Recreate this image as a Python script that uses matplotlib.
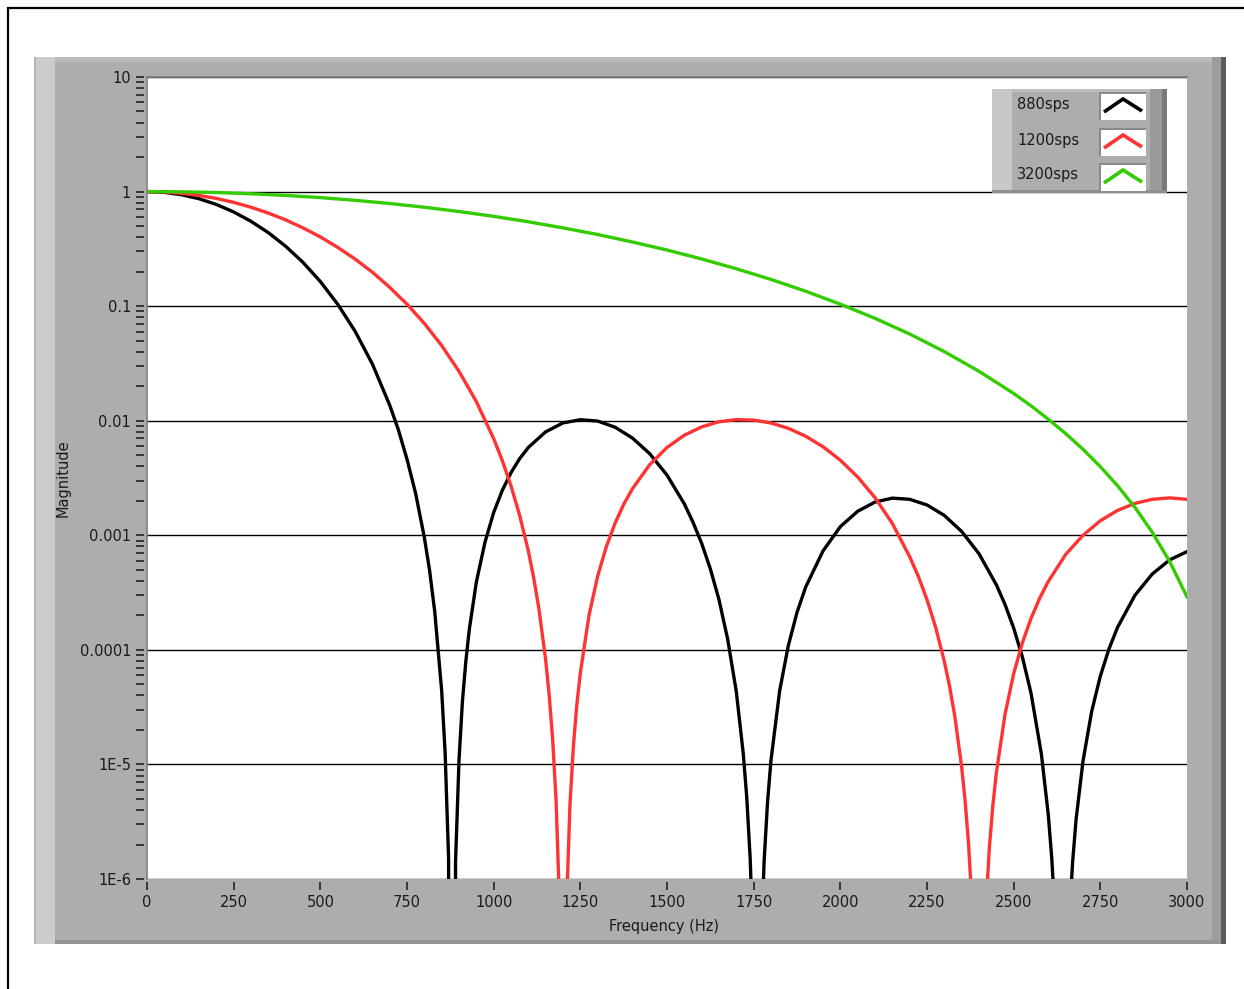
import numpy as np
import matplotlib
matplotlib.use("Agg")
import matplotlib.pyplot as plt
from matplotlib.patches import Rectangle
from matplotlib.lines import Line2D

# sinc^3 filter magnitude responses
freq_880 = [0, 50, 100, 150, 200, 250, 300, 350, 400, 450, 500, 550, 600, 650, 700,
            725, 750, 775, 800, 815, 830, 850, 860, 870, 880, 890, 900, 910, 920, 930, 950, 975,
            1000, 1025, 1050, 1075, 1100, 1150, 1200, 1250, 1300, 1350, 1400, 1450, 1500, 1550,
            1575, 1600, 1625, 1650, 1675, 1700,
            1720, 1730, 1740, 1750, 1760, 1770, 1780, 1790, 1800, 1825, 1850, 1875, 1900,
            1950, 2000, 2050, 2100, 2150, 2200, 2250, 2300, 2350, 2400, 2450, 2475, 2500, 2525, 2550,
            2580, 2600, 2610, 2620, 2640, 2660, 2670, 2680, 2700, 2725, 2750, 2775, 2800,
            2850, 2900, 2950, 3000]
mag_880 = [1.0, 0.984, 0.938, 0.866, 0.772, 0.664, 0.550, 0.438, 0.333, 0.241, 0.164, 0.104, 0.0606,
           0.0313, 0.0137,
           8.35e-3, 4.61e-3, 2.31e-3, 9.6e-4, 4.97e-4, 2.16e-4, 4.4e-5, 1.26e-5, 1.5e-6, 0, 1.4e-6,
           1.09e-5, 3.6e-5, 8.1e-5, 1.53e-4, 3.9e-4, 8.7e-4,
           1.58e-3, 2.47e-3, 3.52e-3, 4.67e-3, 5.84e-3, 8.0e-3, 9.57e-3, 1.02e-2, 9.93e-3, 8.78e-3,
           7.07e-3, 5.16e-3, 3.35e-3, 1.88e-3, 1.30e-3, 8.5e-4, 5.1e-4, 2.74e-4, 1.24e-4, 4.3e-5,
           1.24e-5, 5.2e-6, 1.5e-6, 1.9e-7, 0, 1.8e-7, 1.4e-6, 4.7e-6, 1.09e-5, 4.4e-5, 1.09e-4,
           2.12e-4, 3.53e-4,
           7.3e-4, 1.19e-3, 1.62e-3, 1.95e-3, 2.11e-3, 2.06e-3, 1.84e-3, 1.49e-3, 1.08e-3, 6.9e-4,
           3.7e-4, 2.49e-4, 1.55e-4, 8.7e-5, 4.2e-5,
           1.23e-5, 3.6e-6, 1.5e-6, 4.4e-7, 0, 4.2e-7, 1.4e-6, 3.3e-6, 1.07e-5, 2.9e-5, 5.9e-5,
           1.02e-4, 1.58e-4,
           3.0e-4, 4.6e-4, 6.1e-4, 7.2e-4]

freq_1200 = [0, 50, 100, 150, 200, 250, 300, 350, 400, 450, 500, 550, 600, 650, 700, 750, 800, 850,
             900, 950, 1000,
             1025, 1050, 1075, 1100, 1115, 1130, 1150, 1160, 1170, 1180, 1190, 1200, 1210, 1220, 1230,
             1240, 1250, 1275,
             1300, 1325, 1350, 1375, 1400, 1450, 1500, 1550, 1600, 1650, 1700, 1750, 1800, 1850, 1900,
             1950, 2000, 2050, 2100, 2150, 2200,
             2225, 2250, 2275, 2300, 2315, 2330, 2350, 2360, 2370, 2380, 2390, 2400, 2410, 2420, 2430,
             2440, 2450, 2475,
             2500, 2525, 2550, 2575, 2600, 2650, 2700, 2750, 2800, 2850, 2900, 2950, 3000]
mag_1200 = [1.0, 0.992, 0.966, 0.926, 0.871, 0.805, 0.730, 0.649, 0.566, 0.482, 0.402, 0.326, 0.258,
            0.198, 0.146, 0.104, 0.0707, 0.0453, 0.0270, 0.0147, 0.00697,
            4.48e-3, 2.70e-3, 1.49e-3, 7.3e-4, 4.32e-4, 2.34e-4, 8.2e-5, 4.07e-5, 1.68e-5, 4.9e-6,
            5.9e-7, 0, 5.6e-7, 4.4e-6, 1.45e-5, 3.34e-5, 6.3e-5, 2.0e-4,
            4.4e-4, 7.96e-4, 1.27e-3, 1.86e-3, 2.54e-3, 4.13e-3, 5.84e-3, 7.47e-3, 8.83e-3, 9.79e-3,
            1.022e-2, 1.013e-2, 9.55e-3, 8.58e-3, 7.32e-3, 5.93e-3, 4.52e-3, 3.23e-3, 2.13e-3,
            1.27e-3, 6.5e-4,
            4.38e-4, 2.74e-4, 1.57e-4, 7.9e-5, 4.83e-5, 2.66e-5, 9.5e-6, 4.8e-6, 2.0e-6, 5.9e-7,
            7e-8, 0, 7e-8, 5.6e-7, 1.9e-6, 4.4e-6, 8.4e-6, 2.73e-5,
            6.2e-5, 1.15e-4, 1.88e-4, 2.82e-4, 3.96e-4, 6.8e-4, 1.0e-3, 1.34e-3, 1.65e-3, 1.90e-3,
            2.06e-3, 2.12e-3, 2.06e-3]

freq_3200 = [0, 100, 200, 300, 400, 500, 600, 700, 800, 900, 1000, 1100, 1200, 1300, 1400, 1500,
             1600, 1700, 1800, 1900, 2000, 2100, 2200, 2300, 2400, 2500,
             2550, 2600, 2650, 2700, 2750, 2800, 2850, 2900, 2950, 3000]
mag_3200 = [1.0, 0.995, 0.981, 0.957, 0.925, 0.886, 0.839, 0.787, 0.730, 0.670, 0.608, 0.545, 0.482,
            0.422, 0.363, 0.309, 0.258, 0.212, 0.171, 0.135, 0.104, 0.0783, 0.0571, 0.0401, 0.0270,
            0.0173,
            0.0135, 0.0103, 0.00772, 0.00563, 0.00397, 0.00270, 0.00175, 0.00106, 5.9e-4, 2.9e-4]

series_names = ['880sps', '1200sps', '3200sps']
series_colors = ['#000000', '#ff3333', '#33cc00']

y_ticks = [1e-6, 1e-5, 1e-4, 1e-3, 1e-2, 1e-1, 1, 10]
y_tick_labels = ['1E-6', '1E-5', '0.0001', '0.001', '0.01', '0.1', '1', '10']
x_ticks = [0, 250, 500, 750, 1000, 1250, 1500, 1750, 2000, 2250, 2500, 2750, 3000]

W, H = 1244, 989
PANEL = '#adadad'
TXT = '#1a1a1a'
FS = 10.5


def box(fig, x0, y0, x1, y1, color, z):
    # rectangle given in image pixels (top-left origin)
    fig.patches.append(Rectangle((x0 / W, 1 - y1 / H), (x1 - x0) / W, (y1 - y0) / H,
                                 transform=fig.transFigure, facecolor=color,
                                 edgecolor='none', zorder=z))


def pline(fig, xs, ys, color, lw, z):
    fig.lines.append(Line2D([x / W for x in xs], [1 - y / H for y in ys],
                            transform=fig.transFigure, color=color, lw=lw, zorder=z,
                            solid_capstyle='butt', solid_joinstyle='miter'))


fig = plt.figure(figsize=(W / 100, H / 100), dpi=100)
fig.patch.set_facecolor('white')

# outer frame (left and top edges visible)
pline(fig, [8, 8], [7, H], 'black', 1.6, -5)
pline(fig, [7, W], [8, 8], 'black', 1.6, -5)

# grey LabVIEW-style panel
box(fig, 34, 57, 1226, 944, PANEL, -4)
box(fig, 34, 57, 1212, 62, '#bcbcbc', -3)
box(fig, 34, 57, 55, 944, '#cccccc', -3)
box(fig, 34, 57, 36, 944, '#b4b4b4', -3)
box(fig, 1212, 57, 1221, 944, '#9c9c9c', -3)
box(fig, 1221, 57, 1226, 944, '#5c5c5c', -3)
box(fig, 55, 940, 1221, 944, '#959595', -3)

# plot area
ax = fig.add_axes([147 / W, 1 - 879 / H, (1187 - 147) / W, (879 - 77) / H])
ax.set_facecolor('white')

for f, m, c in zip([freq_880, freq_1200, freq_3200], [mag_880, mag_1200, mag_3200], series_colors):
    ax.plot(f, m, color=c, lw=2.4, solid_joinstyle='round', zorder=3)

ax.set_yscale('log', nonpositive='clip')
ax.set_xlim(0, 3000)
ax.set_ylim(1e-6, 10)

ax.set_yticks(y_ticks)
ax.set_yticklabels(y_tick_labels)
ax.set_xticks(x_ticks)
ax.set_xticklabels([str(v) for v in x_ticks])
ax.yaxis.set_minor_locator(matplotlib.ticker.LogLocator(base=10, subs=np.arange(2, 10), numticks=20))
ax.yaxis.set_minor_formatter(matplotlib.ticker.NullFormatter())

ax.grid(axis='y', which='major', color='black', lw=1.0, zorder=1)
ax.set_axisbelow(True)

# ticks sit a few pixels away from the plot area, spines hidden
for side in ['left', 'bottom']:
    ax.spines[side].set_position(('outward', 2.5))
    ax.spines[side].set_visible(False)
for side in ['top', 'right']:
    ax.spines[side].set_visible(False)

ax.tick_params(axis='y', which='major', direction='out', length=6, width=1.2,
               color='#222222', labelsize=FS, labelcolor=TXT, pad=3)
ax.tick_params(axis='y', which='minor', direction='out', length=6, width=1.2, color='#222222')
ax.tick_params(axis='x', which='major', direction='out', length=6, width=1.2,
               color='#222222', labelsize=FS, labelcolor=TXT, pad=3)

# thin grey border on top and left of the plot area
ax.plot([0, 0], [0, 1], transform=ax.transAxes, color='#808080', lw=1.2, clip_on=False, zorder=4)
ax.plot([0, 1], [1, 1], transform=ax.transAxes, color='#808080', lw=1.2, clip_on=False, zorder=4)

fig.text(63 / W, 1 - 478 / H, 'Magnitude', rotation=90, ha='center', va='center',
         fontsize=FS, color=TXT)
fig.text(664 / W, 1 - 926 / H, 'Frequency (Hz)', ha='center', va='center',
         fontsize=FS, color=TXT)

# legend box drawn in the LabVIEW style
box(fig, 992, 89, 1167, 193, PANEL, 5)
box(fig, 992, 89, 1167, 92, '#bdbdbd', 6)
box(fig, 992, 89, 1012, 193, '#c8c8c8', 6)
box(fig, 1150, 89, 1162, 193, '#9a9a9a', 6)
box(fig, 1162, 89, 1167, 193, '#7a7a7a', 6)
box(fig, 992, 190, 1167, 193, '#8e8e8e', 6)

swatch_tops = [92, 128, 163]
text_y = [105, 140, 175]
for name, c, top, ty in zip(series_names, series_colors, swatch_tops, text_y):
    fig.text(1017 / W, 1 - ty / H, name, ha='left', va='center', fontsize=FS, color=TXT, zorder=7)
    box(fig, 1099, top, 1146, top + 28, '#8a8a8a', 7)
    box(fig, 1101, top + 2, 1146, top + 28, 'white', 7)
    pline(fig, [1104, 1123, 1142], [top + 20, top + 7, top + 19], c, 2.6, 8)

fig.savefig('out.png', dpi=100)
